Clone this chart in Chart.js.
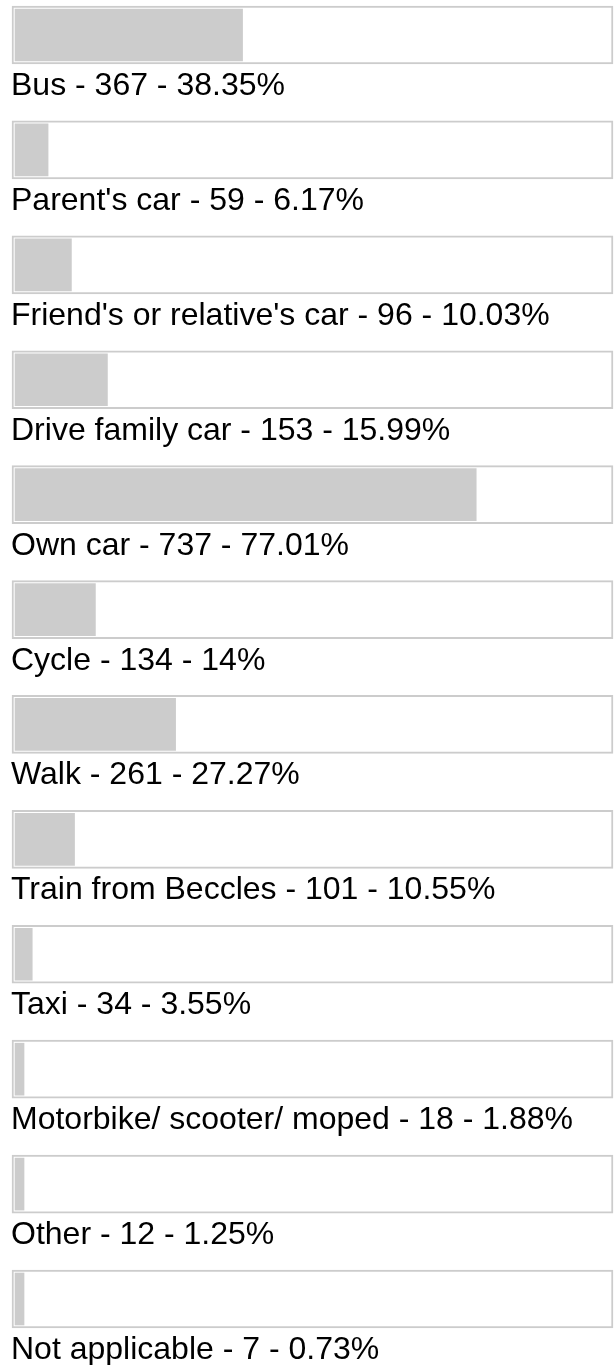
<!DOCTYPE html>
<html>
<head>
<meta charset="utf-8">
<script src="https://cdn.jsdelivr.net/npm/chart.js@4/dist/chart.umd.min.js"></script>
<style>
  html, body { margin: 0; padding: 0; background: #fff; }
  canvas { display: block; }
</style>
</head>
<body>
<canvas id="travelChart" width="614" height="1365"></canvas>
<script>
// Survey answers: how do you travel
const categories = [
    'Bus', "Parent's car", "Friend's or relative's car", 'Drive family car',
    'Own car', 'Cycle', 'Walk', 'Train from Beccles', 'Taxi',
    'Motorbike/ scooter/ moped', 'Other', 'Not applicable'
];
const counts = [367, 59, 96, 153, 737, 134, 261, 101, 34, 18, 12, 7];
const percents = [38.35, 6.17, 10.03, 15.99, 77.01, 14, 27.27, 10.55, 3.55, 1.88, 1.25, 0.73];

// scale range (box edges) and where the grey bars start
const xMin = 0.2;
const xMax = 99.64;
const barBase = 0.7;

document.addEventListener('DOMContentLoaded', function() {
    const ctx = document.getElementById('travelChart').getContext('2d');

    // draws "label - count - pct%" under each box
    const labelsBelow = {
        id: 'labelsBelow',
        afterDatasetsDraw: function(chart) {
            const c = chart.ctx;
            const yScale = chart.scales.y;
            c.save();
            c.font = '32px "Liberation Sans", Arial, sans-serif';
            c.fillStyle = '#000';
            c.textBaseline = 'alphabetic';
            c.textAlign = 'left';
            categories.forEach(function(name, i) {
                const y = yScale.getPixelForValue(i) + 60;
                c.fillText(name + ' - ' + counts[i] + ' - ' + percents[i] + '%', 11, y);
            });
            c.restore();
        }
    };

    new Chart(ctx, {
        type: 'bar',
        data: {
            labels: categories,
            datasets: [{
                data: percents,
                base: barBase,
                minBarLength: 9,
                backgroundColor: '#cccccc',
                borderWidth: 0,
                barThickness: 52,
                clip: false
            }, {
                // white box with grey border behind every bar
                data: categories.map(() => [xMin, xMax]),
                backgroundColor: '#ffffff',
                borderColor: '#cccccc',
                borderWidth: 2,
                borderSkipped: false,
                barThickness: 58,
                clip: false
            }]
        },
        options: {
            indexAxis: 'y',
            responsive: false,
            animation: false,
            layout: {
                padding: { left: 12, right: 1, top: 35, bottom: 66 }
            },
            datasets: {
                bar: { grouped: false }
            },
            scales: {
                x: { display: false, min: xMin, max: xMax },
                y: { display: false, offset: false }
            },
            plugins: {
                legend: { display: false },
                tooltip: { enabled: false }
            }
        },
        plugins: [labelsBelow]
    });
});
</script>
</body>
</html>
